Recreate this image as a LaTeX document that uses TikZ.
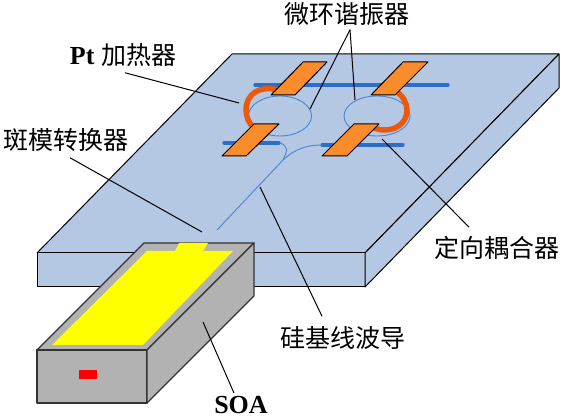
\documentclass[tikz,border=0pt]{standalone}
\usepackage{fontspec}
\setmainfont{Liberation Serif}
\newfontfamily\cjk{Noto Sans CJK SC}
\definecolor{platefill}{RGB}{180, 199, 227}
\definecolor{padorange}{RGB}{250, 140, 43}
\definecolor{heaterorange}{RGB}{235, 90, 10}
\definecolor{guideblue}{RGB}{45, 110, 205}
\definecolor{soagrey}{RGB}{178, 178, 178}
\definecolor{goldpad}{RGB}{255, 255, 0}
\definecolor{facetred}{RGB}{255, 0, 0}
\tikzset{
  plate/.style={draw=black, fill=platefill, line width=1pt, line join=round},
  soaface/.style={draw=black!80, fill=soagrey, line width=1.2pt, line join=round},
  pad/.style={draw=black, fill=padorange, line width=1pt, line join=round},
  heater/.style={draw=heaterorange, line width=5.5pt},
  busguide/.style={draw=guideblue, line width=3.2pt, line cap=round},
  ringguide/.style={draw=guideblue!85!white, line width=0.9pt},
  leader/.style={draw=black, line width=1pt},
  lbl/.style={font=\fontsize{25}{27}\selectfont\cjk, inner sep=1pt},
  lblb/.style={font=\fontsize{26}{28}\selectfont\bfseries, inner sep=1pt}
}
\begin{document}
\begin{tikzpicture}[x=1pt, y=-1pt]
  \useasboundingbox (0,0) rectangle (565,419);
  % substrate
  \draw[plate] (232,54) -- (559,54) -- (365,253) -- (37,253) -- cycle;
  \draw[plate] (37,253) -- (365,253) -- (365,287) -- (37,287) -- cycle;
  \draw[plate] (365,253) -- (559,54) -- (559,88) -- (365,287) -- cycle;
  % waveguides
  \draw[busguide] (255,85) -- (448,85);
  \draw[busguide] (224,143) -- (279,143);
  \draw[busguide] (322,145) -- (403,145);
  \draw[ringguide] (280,116) ellipse (31.5 and 20);
  \draw[ringguide] (377,116) ellipse (33 and 20);
  \draw[ringguide] (217,230) -- (283,160) .. controls (288,150) and (288,146) .. (280,143);
  \draw[ringguide] (283,160) .. controls (296,148) and (308,145) .. (322,145);
  % heaters
  \draw[heater] (277,90) .. controls (260,85) and (246,94) .. (246,110) .. controls (246,117) and (249,123) .. (253,127);
  \draw[heater] (396,91) .. controls (403,96) and (407,103) .. (407,110) .. controls (407,123) and (396,130) .. (385,130) .. controls (380,130) and (376,129) .. (372,127);
  % pads
  \draw[pad] (271,95) -- (295,95) -- (327,62) -- (303,62) -- cycle;
  \draw[pad] (371,95) -- (395,95) -- (428,62) -- (403,62) -- cycle;
  \draw[pad] (222,156) -- (246,156) -- (279,124) -- (254,124) -- cycle;
  \draw[pad] (322,156) -- (347,156) -- (379,124) -- (354,124) -- cycle;
  % SOA
  \draw[soaface] (144,243) -- (254,243) -- (147,350) -- (37,350) -- cycle;
  \draw[soaface] (37,350) -- (147,350) -- (147,403) -- (37,403) -- cycle;
  \draw[soaface] (147,350) -- (254,243) -- (254,296) -- (147,403) -- cycle;
  \fill[goldpad] (147,251) -- (175,251) -- (179,243) -- (208,243) -- (203,251) -- (233,251) -- (143,345) -- (52,345) -- cycle;
  \fill[facetred] (79,370) rectangle (97,379);
  % labels
  \node[lbl] (micro) at (347,14) {微环谐振器};
  \node[lblb] (pt) at (123,55) {Pt \cjk\mdseries\fontsize{25}{27}\selectfont 加热器};
  \node[lbl] (converter) at (66,140) {斑模转换器};
  \node[lbl] (coupler) at (497,248) {定向耦合器};
  \node[lbl] (siguide) at (343,338) {硅基线波导};
  \node[lblb] (soa) at (241,405) {SOA};
  \coordinate (ptend) at (239,103);
  \coordinate (ringa) at (310,109);
  \coordinate (ringb) at (355,100);
  \coordinate (converterend) at (202,232);
  \coordinate (couplerend) at (382,139);
  \coordinate (siguideend) at (260,187);
  \coordinate (soaend) at (203,322);
  \draw[leader] ([xshift=2pt,yshift=-5pt]pt.south) -- (ptend);
  \draw[leader] ([xshift=3pt,yshift=-3pt]micro.south) -- (ringa);
  \draw[leader] ([xshift=3pt,yshift=-3pt]micro.south) -- (ringb);
  \draw[leader] ([xshift=4pt,yshift=-5pt]converter.south) -- (converterend);
  \draw[leader] ([xshift=-28pt,yshift=8pt]coupler.north) -- (couplerend);
  \draw[leader] ([xshift=-21pt,yshift=9pt]siguide.north) -- (siguideend);
  \draw[leader] ([xshift=-7pt,yshift=2pt]soa.north) -- (soaend);
\end{tikzpicture}
\end{document}
